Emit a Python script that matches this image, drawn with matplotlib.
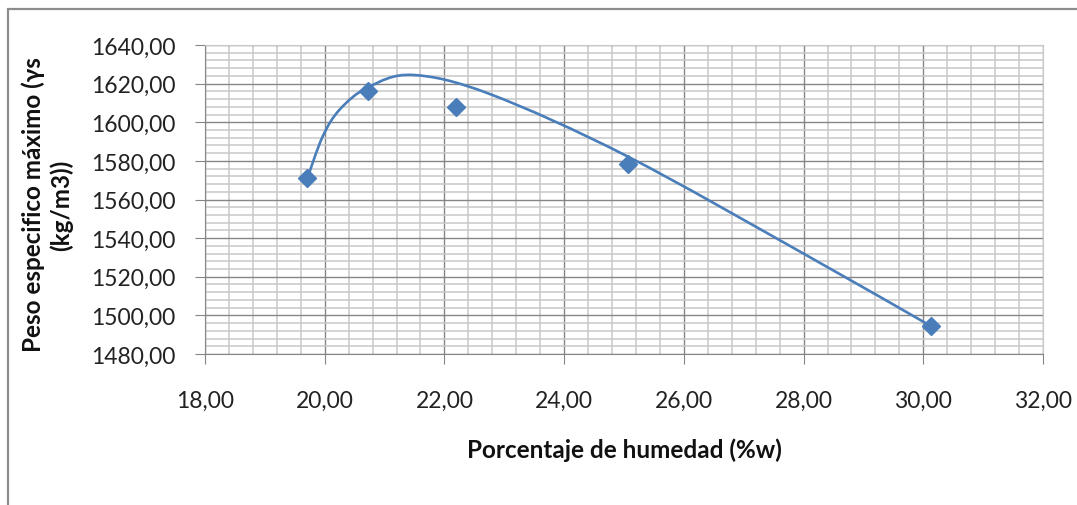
import numpy as np
import matplotlib.pyplot as plt
from matplotlib.ticker import MultipleLocator, FuncFormatter
from matplotlib.patches import Rectangle, PathPatch
from matplotlib.path import Path

plt.rcParams['font.family'] = ['Lato', 'DejaVu Sans']

# ensayo: humedad (%) y peso especifico seco (kg/m3)
humedad = [19.71, 20.72, 22.19, 25.06, 30.13]
peso = [1571.0, 1616.2, 1607.9, 1578.4, 1494.4]

# curva de compactacion (linea suavizada)
curva_x = [19.71, 19.97, 20.26, 20.73, 21.47, 22.76, 25.06, 28.01, 30.13]
curva_y = [1571.0, 1592.9, 1606.9, 1618.2, 1624.5, 1614.6, 1582.3, 1531.8, 1494.4]

AZUL = '#4a7ebb'


def smooth_path(xs, ys):
    # cubic bezier segments, catmull-rom style tangents (like a spreadsheet "smoothed line")
    p = np.column_stack([xs, ys])
    n = len(p)
    verts = [p[0]]
    codes = [Path.MOVETO]
    for i in range(n - 1):
        p0 = p[i - 1] if i > 0 else p[i]
        p1, p2 = p[i], p[i + 1]
        p3 = p[i + 2] if i + 2 < n else p[i + 1]
        c1 = p1 + (p2 - p0) / 6.0
        c2 = p2 - (p3 - p1) / 6.0
        verts += [c1, c2, p2]
        codes += [Path.CURVE4] * 3
    return Path(verts, codes)


fig = plt.figure(figsize=(10.77, 5.06), dpi=100)
# chart area frame
fig.patches.append(Rectangle((8 / 1077, -0.1), 1.2, (506 - 10) / 506 + 0.1,
                             transform=fig.transFigure, fill=False,
                             edgecolor='#8c8c8c', lw=1.6))

ax = fig.add_axes([205 / 1077, 1 - 355 / 506, (1043 - 205) / 1077, (355 - 46) / 506])

ax.add_patch(PathPatch(smooth_path(curva_x, curva_y), facecolor='none',
                       edgecolor=AZUL, lw=1.9, zorder=3))
ax.plot(humedad, peso, linestyle='none', marker='D', markersize=9.5,
        color=AZUL, markeredgecolor=AZUL, zorder=4)

ax.set_xlim(18, 32)
ax.set_ylim(1480, 1640)
ax.xaxis.set_major_locator(MultipleLocator(2))
ax.xaxis.set_minor_locator(MultipleLocator(0.4))
ax.yaxis.set_major_locator(MultipleLocator(20))
ax.yaxis.set_minor_locator(MultipleLocator(4))
fmt = FuncFormatter(lambda v, p: f'{v:.2f}'.replace('.', ','))
ax.xaxis.set_major_formatter(fmt)
ax.yaxis.set_major_formatter(fmt)

ax.grid(which='major', color='#868686', lw=1.0)
ax.grid(which='minor', color='#c8c8c8', lw=1.1)
ax.set_axisbelow(True)
for s in ['top', 'right']:
    ax.spines[s].set_color('#c8c8c8')
for s in ['left', 'bottom']:
    ax.spines[s].set_color('#868686')

ax.tick_params(which='major', length=7, color='#868686', labelsize=16.5, colors='#222222')
ax.tick_params(axis='x', which='major', pad=19)
ax.tick_params(axis='y', which='major', pad=14)
ax.tick_params(which='minor', length=0)

fig.text(624 / 1077, 1 - 450 / 506, 'Porcentaje de humedad (%w)', fontsize=17.5,
         fontweight='bold', ha='center', va='center', color='#111111')
fig.text(47 / 1077, 1 - 205 / 506, 'Peso especifico máximo (γs\n(kg/m3))', fontsize=17.5,
         fontweight='bold', ha='center', va='center', rotation=90,
         linespacing=1.25, multialignment='center', color='#111111')

fig.savefig('out.png', dpi=100)
